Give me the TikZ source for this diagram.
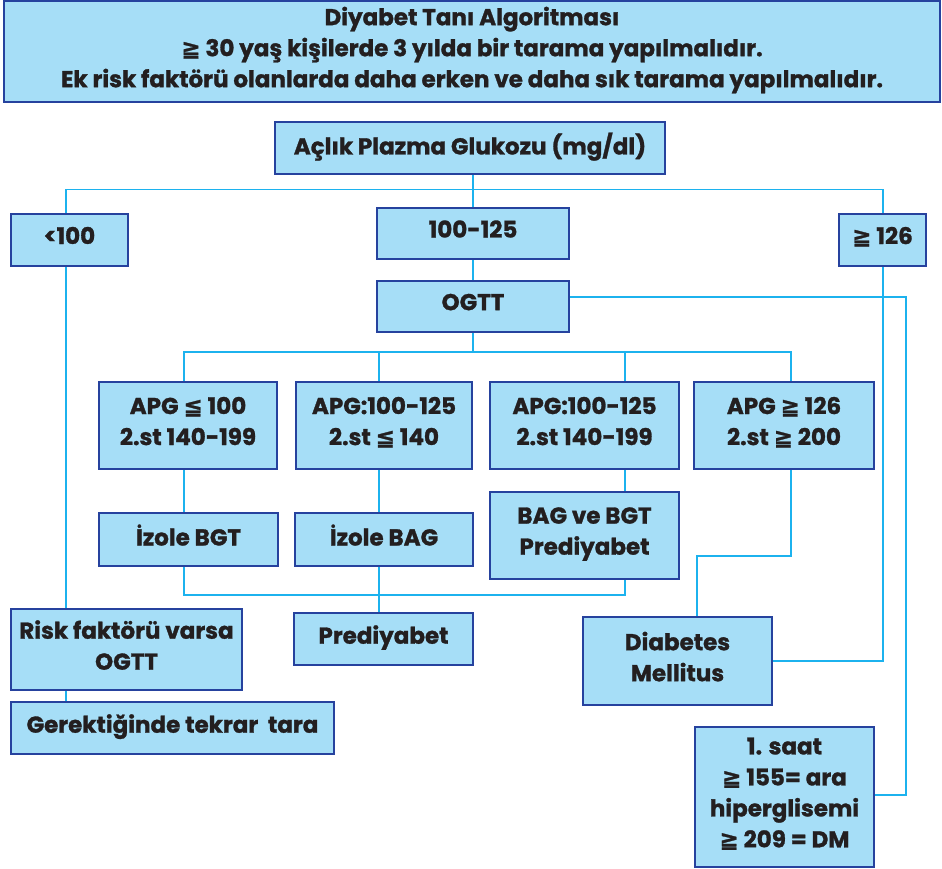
\documentclass[tikz,border=0pt]{standalone}
\usepackage{fontspec}
\setmainfont{Poppins}[BoldFeatures={FakeBold=1.2}]
\newfontfamily\symf{DejaVu Sans}[BoldFeatures={FakeBold=1.2}]
\usetikzlibrary{backgrounds}
\definecolor{boxfill}{RGB}{166,222,247}
\definecolor{boxline}{RGB}{38,66,158}
\definecolor{wire}{RGB}{28,178,238}
\definecolor{ink}{RGB}{35,31,32}
\newcommand{\leqs}{{\symf\bfseries ≦}}
\newcommand{\geqs}{{\symf\bfseries ≧}}
% invisible strut that sets the text a little above the box centre
\newcommand{\lo}{\rule[-9pt]{0pt}{1pt}}
\tikzset{
  box/.style={draw=boxline, line width=2.6pt, fill=boxfill, inner sep=0pt,
    text=ink, align=center, font=\fontsize{23}{31}\selectfont\bfseries},
  conn/.style={draw=wire, line width=1.8pt}
}
\begin{document}
\begin{tikzpicture}[x=1pt,y=-1pt]
\useasboundingbox (0,0) rectangle (942,869);

% boxes
\node[box, minimum width=936, minimum height=101] (top) at (472,51.5)
  {Diyabet Tanı Algoritması\\ \geqs\ 30 yaş kişilerde 3 yılda bir tarama yapılmalıdır.\\Ek risk faktörü olanlarda daha erken ve daha sık tarama yapılmalıdır.\lo};
\node[box, minimum width=390, minimum height=52] (acl) at (470,148) {Açlık Plazma Glukozu (mg/dl)\lo};
\node[box, minimum width=117, minimum height=52] (lt) at (69.5,240) {<100\lo};
\node[box, minimum width=192, minimum height=51] (mid) at (473,233.5) {100-125\lo};
\node[box, minimum width=87, minimum height=52] (ge) at (882.5,240) {\geqs\ 126\lo};
\node[box, minimum width=192, minimum height=51] (ogtt) at (473,306.5) {OGTT\lo};
\node[box, minimum width=178, minimum height=87] (apg1) at (188,425.5) {APG \leqs\ 100\\2.st 140-199\lo};
\node[box, minimum width=176, minimum height=87] (apg2) at (384,425.5) {APG:100-125\\2.st \leqs\ 140\lo};
\node[box, minimum width=189, minimum height=87] (apg3) at (584.5,425.5) {APG:100-125\\2.st 140-199\lo};
\node[box, minimum width=180, minimum height=87] (apg4) at (784,425.5) {APG \geqs\ 126\\2.st \geqs\ 200\lo};
\node[box, minimum width=179, minimum height=53] (bgt) at (188.5,539.5) {İzole BGT\lo};
\node[box, minimum width=178, minimum height=53] (bag) at (384,539.5) {İzole BAG\lo};
\node[box, minimum width=189, minimum height=87] (bagbgt) at (584.5,535.5) {BAG ve BGT\\Prediyabet\lo};
\node[box, minimum width=179, minimum height=52] (pre) at (383.5,639) {Prediyabet\lo};
\node[box, minimum width=189, minimum height=88] (dm) at (677.5,661) {Diabetes\\Mellitus\lo};
\node[box, minimum width=179, minimum height=140] (saat) at (784.5,797) {1. saat\\\geqs\ 155= ara\\hiperglisemi\\ \geqs\ 209 = DM\lo};
\node[box, minimum width=231, minimum height=81] (risk) at (126.5,649.5) {Risk faktörü varsa\\OGTT\lo};
\node[box, minimum width=323, minimum height=52] (ger) at (172.5,728) {Gerektiğinde tekrar\ \ tara\lo};

% routing guides
\coordinate (xl) at (66,0);
\coordinate (xc) at (473,0);
\coordinate (xr) at (883,0);
\coordinate (xo) at (906,0);
\coordinate (a1) at (184,0);
\coordinate (a2) at (379,0);
\coordinate (a3) at (625,0);
\coordinate (a4) at (791,0);
\coordinate (d1) at (697,0);
\coordinate (y1) at (0,189.5);
\coordinate (y2) at (0,352);
\coordinate (yo) at (0,297);
\coordinate (yp) at (0,595);
\coordinate (yd) at (0,556);
\coordinate (ys) at (0,795);

\begin{scope}[on background layer]
  % first split
  \draw[conn] (lt.north -| xl) |- (xr |- y1) -- (ge.north -| xr);
  \draw[conn] (acl.south -| xc) -- (mid.north -| xc);
  \draw[conn] (mid.south -| xc) -- (ogtt.north -| xc);
  % >=126 to DM
  \draw[conn] (ge.south -| xr) |- (dm.east);
  % OGTT to 1. saat
  \draw[conn] (ogtt.east |- yo) -| (xo |- ys) -- (saat.east |- ys);
  % OGTT split
  \draw[conn] (ogtt.south -| xc) -- (xc |- y2);
  \draw[conn] (apg1.north -| a1) |- (a4 |- y2) -- (apg4.north -| a4);
  \draw[conn] (apg2.north -| a2) -- (a2 |- y2);
  \draw[conn] (apg3.north -| a3) -- (a3 |- y2);
  % results
  \draw[conn] (apg1.south -| a1) -- (bgt.north -| a1);
  \draw[conn] (apg2.south -| a2) -- (bag.north -| a2);
  \draw[conn] (apg3.south -| a3) -- (bagbgt.north -| a3);
  \draw[conn] (bgt.south -| a1) |- (a3 |- yp) -- (bagbgt.south -| a3);
  \draw[conn] (bag.south -| a2) -- (pre.north -| a2);
  \draw[conn] (apg4.south -| a4) |- (d1 |- yd) -- (dm.north -| d1);
  % <100 branch
  \draw[conn] (lt.south -| xl) -- (risk.north -| xl);
  \draw[conn] (risk.south -| xl) -- (ger.north -| xl);
\end{scope}
\end{tikzpicture}
\end{document}
